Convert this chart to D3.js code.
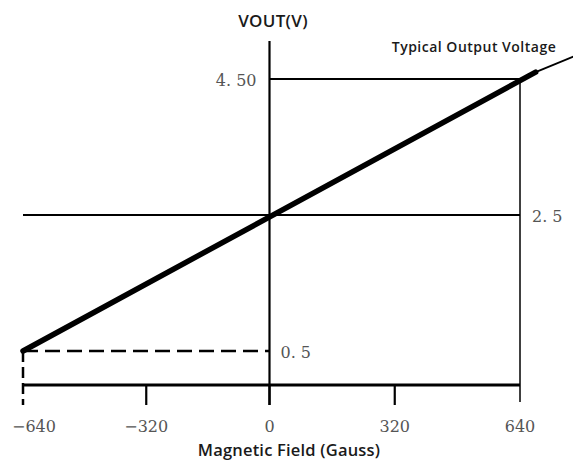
<!DOCTYPE html>
<html>
<head>
<meta charset="utf-8">
<script src="https://cdn.jsdelivr.net/npm/d3@7"></script>
<style>
body { margin: 0; background: #fff; }
svg { display: block; }
</style>
</head>
<body>
<div id="chart"></div>
<script>
(function(){
// data
const fieldTicks = [-640, -320, 0, 320, 640];
const fieldTickLabels = ['\u2212640', '\u2212320', '0', '320', '640'];
const voutLevels = [0.5, 2.5, 4.5];
const voutLabels = ['0. 5', '2. 5', '4. 50'];
// typical output curve (thick part) and the thin tail past +640 G
const curveField = [-640, 680];
const curveVout = [0.5, 4.6];
const tailField = [680, 785];
const tailVout = [4.6, 4.85];

const width = 573, height = 463;
const svg = d3.select('#chart').append('svg').attr('width', width).attr('height', height);

const x = d3.scaleLinear().domain([-640, 0, 640]).range([23, 269.5, 520]);
const y = d3.scaleLinear().domain([0, 4.5]).range([385, 79]);

const numFont = 'DejaVu Serif';
const sansFont = 'Open Sans';

// horizontal guide at 2.5 V across the whole field
svg.append('line')
  .attr('x1', x(-640)).attr('x2', x(640))
  .attr('y1', y(2.5)).attr('y2', y(2.5))
  .attr('stroke', '#000').attr('stroke-width', 2);

// 4.5 V guide from axis to +640
svg.append('line')
  .attr('x1', x(0)).attr('x2', x(640))
  .attr('y1', y(4.5)).attr('y2', y(4.5))
  .attr('stroke', '#000').attr('stroke-width', 2);

// 0.5 V dashed guide from -640 to axis
svg.append('line')
  .attr('x1', x(-640)).attr('x2', x(0))
  .attr('y1', y(0.5)).attr('y2', y(0.5))
  .attr('stroke', '#000').attr('stroke-width', 2.5)
  .attr('stroke-dasharray', '15,7');

// vertical drop at +640
svg.append('line')
  .attr('x1', x(640)).attr('x2', x(640))
  .attr('y1', y(4.5)).attr('y2', y(0) + 17)
  .attr('stroke', '#000').attr('stroke-width', 1.5);

// dashed vertical at -640
svg.append('line')
  .attr('x1', x(-640)).attr('x2', x(-640))
  .attr('y1', y(0.5)).attr('y2', y(0) + 20)
  .attr('stroke', '#000').attr('stroke-width', 2.5)
  .attr('stroke-dasharray', '11,5');

// x axis baseline
svg.append('line')
  .attr('x1', x(-640)).attr('x2', x(640))
  .attr('y1', y(0)).attr('y2', y(0))
  .attr('stroke', '#000').attr('stroke-width', 3);

// ticks below the baseline
svg.selectAll('.tick').data(fieldTicks.filter(d => d !== -640 && d !== 640)).enter().append('line')
  .attr('x1', d => x(d)).attr('x2', d => x(d))
  .attr('y1', y(0)).attr('y2', y(0) + 20)
  .attr('stroke', '#000').attr('stroke-width', 2.2);

// vertical VOUT axis
svg.append('line')
  .attr('x1', x(0)).attr('x2', x(0))
  .attr('y1', y(5.06)).attr('y2', y(0) + 20)
  .attr('stroke', '#000').attr('stroke-width', 2.2);

// tick labels on field axis
svg.selectAll('.xlab').data(fieldTicks).enter().append('text')
  .attr('x', (d, i) => x(d) + (i === 0 ? 11 : 0))
  .attr('y', 432)
  .attr('text-anchor', 'middle')
  .attr('font-family', numFont).attr('font-size', 16)
  .attr('fill', '#555')
  .text((d, i) => fieldTickLabels[i]);

// voltage labels
const voutPos = [
  {anchor: 'start', dx: 11},   // 0.5 right of axis
  {anchor: 'start', dx: 12},   // 2.5 right of +640 line
  {anchor: 'end', dx: -13}     // 4.50 left of axis
];
svg.selectAll('.ylab').data(voutLevels).enter().append('text')
  .attr('x', (d, i) => (i === 1 ? x(640) : x(0)) + voutPos[i].dx)
  .attr('y', d => y(d) + 7)
  .attr('text-anchor', (d, i) => voutPos[i].anchor)
  .attr('font-family', numFont).attr('font-size', 16)
  .attr('fill', '#555')
  .text((d, i) => voutLabels[i]);

// output curve
const line = d3.line().x(d => x(d[0])).y(d => y(d[1]));
svg.append('path')
  .datum(curveField.map((f, i) => [f, curveVout[i]]))
  .attr('d', line)
  .attr('fill', 'none').attr('stroke', '#000').attr('stroke-width', 5.5)
  .attr('stroke-linecap', 'round');
svg.append('path')
  .datum(tailField.map((f, i) => [f, tailVout[i]]))
  .attr('d', line)
  .attr('fill', 'none').attr('stroke', '#000').attr('stroke-width', 1.8);

// titles
svg.append('text')
  .attr('x', 273).attr('y', 27)
  .attr('text-anchor', 'middle')
  .attr('font-family', sansFont).attr('font-size', 17).attr('font-weight', 600)
  .attr('letter-spacing', 0.3)
  .attr('fill', '#1a1a1a')
  .text('VOUT(V)');

svg.append('text')
  .attr('x', 474).attr('y', 52)
  .attr('text-anchor', 'middle')
  .attr('font-family', sansFont).attr('font-size', 14).attr('font-weight', 600)
  .attr('letter-spacing', 0.5)
  .attr('fill', '#1a1a1a')
  .text('Typical Output Voltage');

svg.append('text')
  .attr('x', 289).attr('y', 456)
  .attr('text-anchor', 'middle')
  .attr('font-family', sansFont).attr('font-size', 16.5).attr('font-weight', 600)
  .attr('letter-spacing', 0.2)
  .attr('fill', '#1a1a1a')
  .text('Magnetic Field (Gauss)');
})();
</script>
</body>
</html>
